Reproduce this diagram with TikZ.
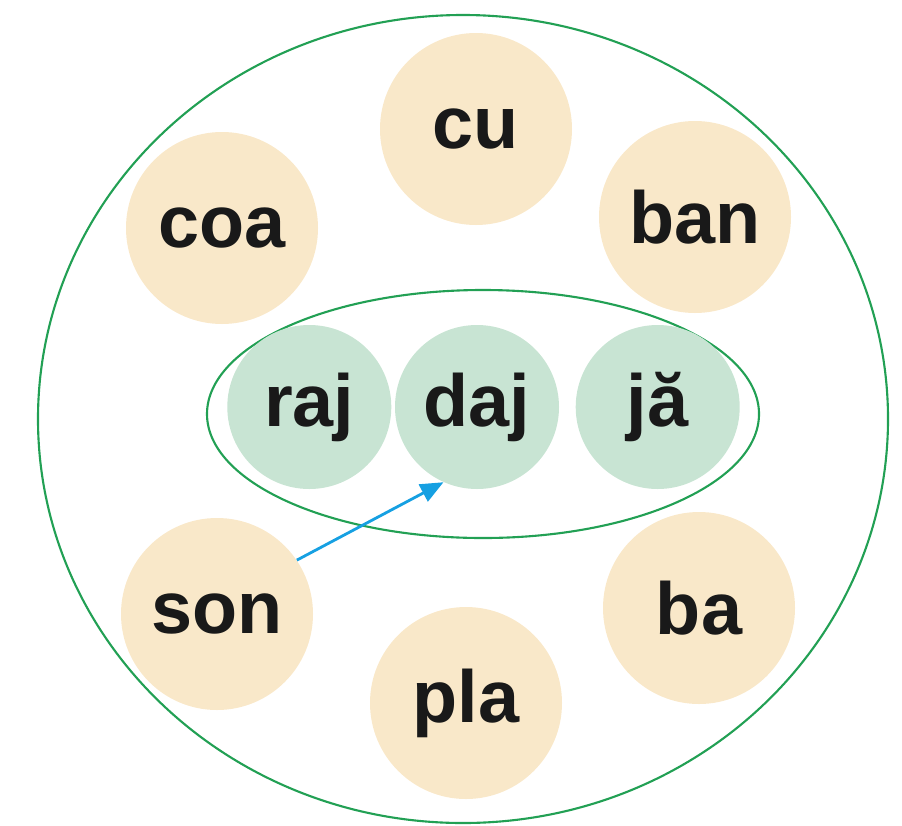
\documentclass[tikz,border=0pt]{standalone}
\usepackage{fontspec}
\setmainfont{Liberation Sans}
\usetikzlibrary{arrows.meta,positioning,shapes.geometric}

\definecolor{sandfill}{RGB}{249,232,201}
\definecolor{mintfill}{RGB}{200,228,211}
\definecolor{ringgreen}{RGB}{34,160,84}
\definecolor{arrowcyan}{RGB}{22,160,226}

\begin{document}
\begin{tikzpicture}[
    x=0.2mm,
    y=-0.2mm,
    every node/.style={
        font=\fontsize{42}{42}\selectfont\bfseries,
        text=black!90,
        align=center
    },
    syllable/.style={
        circle,
        fill=sandfill,
        inner sep=0pt,
        minimum size=38.4mm
    },
    wordpart/.style={
        circle,
        fill=mintfill,
        inner sep=0pt,
        minimum size=32.8mm
    },
    ring/.style={
        ellipse,
        draw=ringgreen,
        line width=1.2pt,
        inner sep=0pt
    },
    link/.style={
        draw=arrowcyan,
        line width=1.6pt,
        -{Triangle[length=4.6mm,width=3.8mm]}
    }
]

\useasboundingbox (0,0) rectangle (902,825);

% ============================================================
% Outer ring
% ============================================================

\node[ring, minimum width=170mm, minimum height=161.6mm]
(outer) at (463,419) {};

% ============================================================
% Syllables around
% ============================================================

\node[syllable] (cu)  at (476,129) {cu};
\node[syllable] (coa) at (222,228) {coa};
\node[syllable] (ban) at (695,217) {ban};
\node[syllable] (son) at (217,614) {son};
\node[syllable] (pla) at (466,703) {pla};
\node[syllable] (ba)  at (699,608) {ba};

% ============================================================
% Inner word
% ============================================================

\node[ring, minimum width=110.4mm, minimum height=49.6mm]
(inner) at (483,414) {};

\node[wordpart] (daj) at (477,407) {daj};

\node[wordpart, left=0.6mm of daj]
(raj) {raj};

\node[wordpart, right=3.2mm of daj]
(ja) {jă};

% Arrow into the word
\draw[link]
(son.34) -- (daj.246);

\end{tikzpicture}
\end{document}
